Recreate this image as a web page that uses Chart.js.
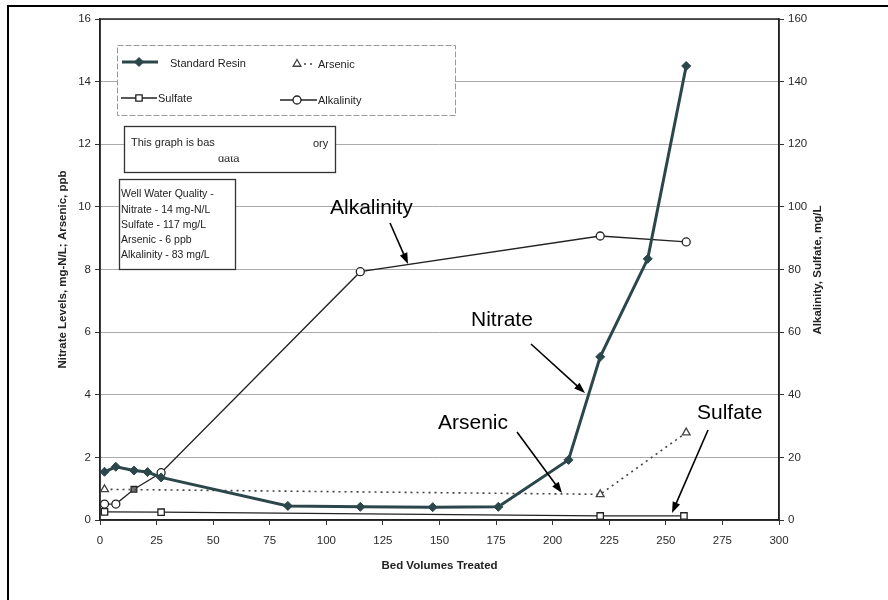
<!DOCTYPE html>
<html>
<head>
<meta charset="utf-8">
<script src="https://cdn.jsdelivr.net/npm/chart.js@4.4.1/dist/chart.umd.min.js"></script>
<style>
  html, body { margin: 0; padding: 0; background: #fff; }
  canvas { display: block; }
</style>
</head>
<body>
<canvas id="chart" width="888" height="600"></canvas>
<script>
// Tick labels for the three axes
const bedVolumeTicks = [0, 25, 50, 75, 100, 125, 150, 175, 200, 225, 250, 275, 300];
const nitrateTicks = [0, 2, 4, 6, 8, 10, 12, 14, 16];
const mgPerLTicks = [0, 20, 40, 60, 80, 100, 120, 140, 160];

// Standard resin run: nitrate (mg-N/L) vs bed volumes
const nitrateBV = [2, 7, 15, 21, 27, 83, 115, 147, 176, 207, 221, 242, 259];
const nitrate = [1.54, 1.70, 1.58, 1.53, 1.36, 0.45, 0.42, 0.41, 0.42, 1.92, 5.21, 8.34, 14.5];

// Arsenic (ppb)
const arsenicBV = [2, 221, 259];
const arsenic = [0.98, 0.82, 2.79];

// Sulfate (mg/L, right axis)
const sulfateBV = [2, 27, 221, 258];
const sulfate = [2.6, 2.5, 1.3, 1.3];

// Alkalinity (mg/L, right axis)
const alkalinityBV = [2, 7, 15, 27, 115, 221, 259];
const alkalinity = [5.1, 5.1, 9.8, 15.1, 79.3, 90.7, 88.8];

const FONT = "'Liberation Sans', Arial, sans-serif";
const pts = (xs, ys) => xs.map((x, i) => ({ x: x, y: ys[i] }));
const useTicks = list => scale => { scale.ticks = list.map(v => ({ value: v })); };

const datasets = [
  {
    label: 'Standard Resin', data: pts(nitrateBV, nitrate), yAxisID: 'yL', order: 0,
    borderColor: '#2b474b', backgroundColor: '#2b474b', borderWidth: 3,
    pointStyle: 'rectRot', pointRadius: 4.5, pointBorderWidth: 1
  },
  {
    label: 'Arsenic', data: pts(arsenicBV, arsenic), yAxisID: 'yL', order: 1,
    borderColor: '#444', backgroundColor: '#fff', borderWidth: 1.6, borderDash: [2, 4],
    pointStyle: 'triangle', pointRadius: 4.5, pointBorderWidth: 1.3
  },
  {
    label: 'Sulfate', data: pts(sulfateBV, sulfate), yAxisID: 'yR', order: 2,
    borderColor: '#222', backgroundColor: '#fff', borderWidth: 1.3,
    pointStyle: 'rect', pointRadius: 4.5, pointBorderWidth: 1.3
  },
  {
    label: 'Alkalinity', data: pts(alkalinityBV, alkalinity), yAxisID: 'yR', order: 3,
    borderColor: '#222', borderWidth: 1.3,
    backgroundColor: ['#fff', '#fff', '#777', '#fff', '#fff', '#fff', '#fff'],
    pointStyle: ['circle', 'circle', 'rect', 'circle', 'circle', 'circle', 'circle'],
    pointRadius: 4, pointBorderWidth: 1.3
  }
];

function arrow(ctx, x1, y1, x2, y2) {
  const a = Math.atan2(y2 - y1, x2 - x1);
  const len = 11, half = 4;
  ctx.beginPath();
  ctx.moveTo(x1, y1);
  ctx.lineTo(x2 - Math.cos(a) * len * 0.8, y2 - Math.sin(a) * len * 0.8);
  ctx.stroke();
  ctx.beginPath();
  ctx.moveTo(x2, y2);
  ctx.lineTo(x2 - Math.cos(a) * len + Math.sin(a) * half, y2 - Math.sin(a) * len - Math.cos(a) * half);
  ctx.lineTo(x2 - Math.cos(a) * len - Math.sin(a) * half, y2 - Math.sin(a) * len + Math.cos(a) * half);
  ctx.closePath();
  ctx.fill();
}

function legendSample(ctx, ds, x1, x2, y, mx) {
  ctx.save();
  ctx.strokeStyle = ds.borderColor;
  ctx.lineWidth = ds.borderWidth;
  ctx.setLineDash(ds.borderDash || []);
  ctx.beginPath(); ctx.moveTo(x1, y); ctx.lineTo(x2, y); ctx.stroke();
  ctx.setLineDash([]);
  const style = Array.isArray(ds.pointStyle) ? ds.pointStyle[0] : ds.pointStyle;
  ctx.fillStyle = Array.isArray(ds.backgroundColor) ? ds.backgroundColor[0] : ds.backgroundColor;
  ctx.lineWidth = ds.pointBorderWidth;
  Chart.helpers.drawPoint(ctx, { pointStyle: style, radius: ds.pointRadius, borderWidth: ds.pointBorderWidth, rotation: 0 }, mx, y);
  ctx.restore();
}

const decorations = {
  id: 'decorations',
  beforeDraw(chart) {
    const ctx = chart.ctx;
    ctx.save();
    ctx.fillStyle = '#fff';
    ctx.fillRect(0, 0, chart.width, chart.height);
    ctx.restore();
  },
  beforeDatasetsDraw(chart) {
    const { ctx, chartArea: a } = chart;
    ctx.save();
    ctx.strokeStyle = '#222';
    ctx.lineWidth = 1.5;
    ctx.strokeRect(a.left, a.top, a.right - a.left, a.bottom - a.top);
    ctx.restore();
  },
  afterDraw(chart) {
    const ctx = chart.ctx;
    const ds = chart.data.datasets;
    ctx.save();

    // outer frame
    ctx.strokeStyle = '#000';
    ctx.lineWidth = 2;
    ctx.beginPath();
    ctx.moveTo(888, 6); ctx.lineTo(8, 6); ctx.lineTo(8, 600);
    ctx.stroke();

    // right axis title
    ctx.save();
    ctx.translate(818, 270);
    ctx.rotate(-Math.PI / 2);
    ctx.fillStyle = '#222';
    ctx.font = 'bold 11.5px ' + FONT;
    ctx.textAlign = 'center';
    ctx.textBaseline = 'middle';
    ctx.fillText('Alkalinity, Sulfate, mg/L', 0, 0);
    ctx.restore();

    // legend box
    ctx.fillStyle = '#fff';
    ctx.fillRect(117, 45, 338, 70);
    ctx.strokeStyle = '#999';
    ctx.lineWidth = 1;
    ctx.setLineDash([6, 2]);
    ctx.strokeRect(117.5, 45.5, 338, 70);
    ctx.setLineDash([]);
    legendSample(ctx, ds[0], 122, 158, 62, 139);
    legendSample(ctx, ds[1], 298, 316, 64, 297);
    legendSample(ctx, ds[2], 121, 157, 98, 139);
    legendSample(ctx, ds[3], 280, 317, 100, 297);
    ctx.fillStyle = '#222';
    ctx.font = '11px ' + FONT;
    ctx.textBaseline = 'middle';
    ctx.textAlign = 'left';
    ctx.fillText('Standard Resin', 170, 64);
    ctx.fillText('Arsenic', 318, 65);
    ctx.fillText('Sulfate', 158, 99);
    ctx.fillText('Alkalinity', 318, 101);

    // note box
    ctx.fillStyle = '#fff';
    ctx.fillRect(124, 126, 211, 46);
    ctx.strokeStyle = '#333';
    ctx.lineWidth = 1.3;
    ctx.strokeRect(124.5, 126.5, 211, 46);
    ctx.fillStyle = '#222';
    ctx.fillText('This graph is bas', 131, 143);
    ctx.fillText('ory', 313, 144);
    ctx.save();
    ctx.beginPath();
    ctx.rect(200, 156.5, 60, 10);
    ctx.clip();
    ctx.textBaseline = 'alphabetic';
    ctx.fillText('data', 218, 162);
    ctx.restore();

    // well water quality box
    ctx.fillStyle = '#fff';
    ctx.fillRect(119, 179, 116, 90);
    ctx.strokeRect(119.5, 179.5, 116, 90);
    ctx.fillStyle = '#222';
    ctx.font = '10.5px ' + FONT;
    ctx.textBaseline = 'middle';
    const lines = ['Well Water Quality -', 'Nitrate - 14 mg-N/L', 'Sulfate - 117 mg/L', 'Arsenic - 6 ppb', 'Alkalinity - 83 mg/L'];
    lines.forEach((t, i) => ctx.fillText(t, 121, 194.5 + i * 15.2));

    // callouts
    ctx.fillStyle = '#000';
    ctx.strokeStyle = '#000';
    ctx.lineWidth = 1.6;
    ctx.font = '21px ' + FONT;
    ctx.textBaseline = 'middle';
    ctx.fillText('Alkalinity', 330, 208);
    arrow(ctx, 390, 223, 408, 264);
    ctx.fillText('Nitrate', 471, 320);
    arrow(ctx, 531, 344, 585, 393);
    ctx.fillText('Arsenic', 438, 423);
    arrow(ctx, 517, 432, 562, 493);
    ctx.fillText('Sulfate', 697, 413);
    arrow(ctx, 708, 430, 672, 513);

    ctx.restore();
  }
};

const tickFont = { family: FONT, size: 11.5 };
const titleFont = { family: FONT, size: 11.5, weight: 'bold' };

new Chart(document.getElementById('chart'), {
  type: 'line',
  data: { datasets: datasets },
  options: {
    responsive: false,
    animation: false,
    devicePixelRatio: 1,
    layout: { padding: { top: 19, left: 0, right: 0, bottom: 0 } },
    plugins: { legend: { display: false }, tooltip: { enabled: false } },
    elements: { line: { tension: 0 } },
    scales: {
      x: {
        type: 'linear', min: 0, max: 300,
        afterBuildTicks: useTicks(bedVolumeTicks),
        afterFit: s => { s.height = 80; },
        grid: { drawOnChartArea: false, drawTicks: true, tickLength: 5, tickColor: '#333', tickWidth: 1 },
        border: { color: '#222', width: 1.5 },
        ticks: { font: tickFont, color: '#2a2a2a', padding: 9, maxRotation: 0 },
        title: { display: true, text: 'Bed Volumes Treated', font: titleFont, color: '#222', padding: { top: 0, bottom: 27 } }
      },
      yL: {
        type: 'linear', position: 'left', min: 0, max: 16,
        afterBuildTicks: useTicks(nitrateTicks),
        afterFit: s => { s.width = 100; },
        grid: { color: '#ababab', lineWidth: 1, borderDash: [9, 3, 3, 3], tickLength: 5, tickColor: '#333', tickBorderDash: [] },
        border: { color: '#222', width: 1.5 },
        ticks: { font: tickFont, color: '#2a2a2a', padding: 4 },
        title: { display: true, text: 'Nitrate Levels, mg-N/L; Arsenic, ppb', font: titleFont, color: '#222', padding: { top: 56, bottom: 0 } }
      },
      yR: {
        type: 'linear', position: 'right', min: 0, max: 160,
        afterBuildTicks: useTicks(mgPerLTicks),
        afterFit: s => { s.width = 109; },
        grid: { drawOnChartArea: false, tickLength: 5, tickColor: '#333' },
        border: { color: '#222', width: 1.5 },
        ticks: { font: tickFont, color: '#2a2a2a', padding: 4 }
      }
    }
  },
  plugins: [decorations]
});
</script>
</body>
</html>
